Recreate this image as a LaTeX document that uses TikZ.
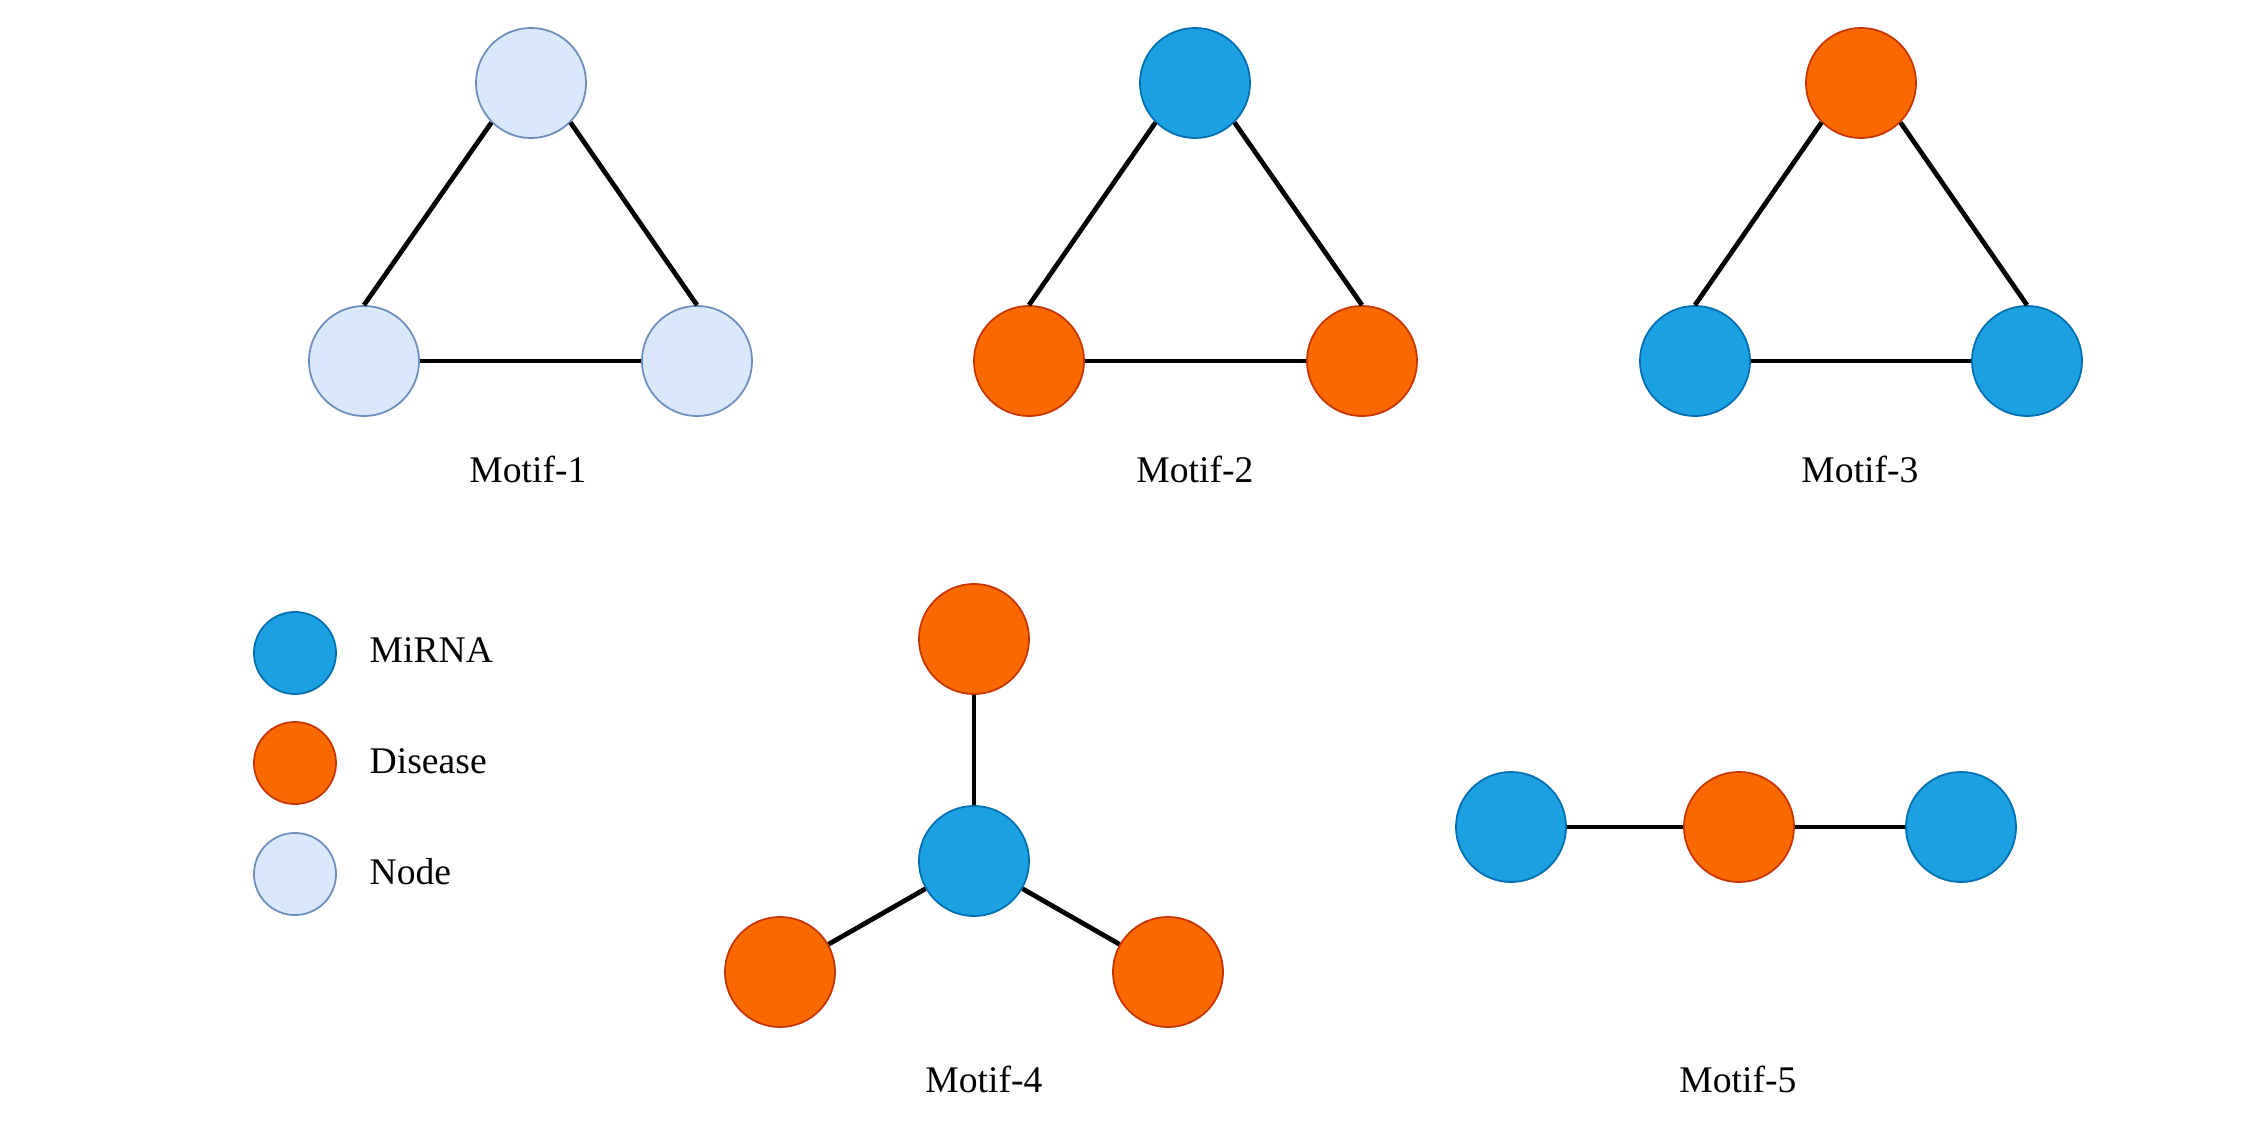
\documentclass[tikz,border=0pt]{standalone}
\usepackage{fontspec}
\setmainfont{Liberation Serif}

\definecolor{mirnaFill}{HTML}{1BA1E2}
\definecolor{mirnaDraw}{HTML}{006EAF}
\definecolor{diseaseFill}{HTML}{FA6800}
\definecolor{diseaseDraw}{HTML}{C73500}
\definecolor{plainFill}{HTML}{DAE8FC}
\definecolor{plainDraw}{HTML}{6C8EBF}

\begin{document}
\begin{tikzpicture}[x=0.01cm, y=-0.01cm,
    every node/.style={font=\fontsize{10.7}{13}\selectfont},
    ball/.style={circle, line width=0.5pt, inner sep=0pt, minimum size=1.10cm},
    small/.style={minimum size=0.82cm},
    mirna/.style={ball, draw=mirnaDraw, fill=mirnaFill},
    disease/.style={ball, draw=diseaseDraw, fill=diseaseFill},
    plain/.style={ball, draw=plainDraw, fill=plainFill},
    edge/.style={line width=1.35pt}]
        \useasboundingbox (0,0) rectangle (2256,1121);

        % Motif-1
        \node[plain] (m1t) at (531,83) {};
        \node[plain] (m1l) at (364,361) {};
        \node[plain] (m1r) at (697,361) {};
        \node[anchor=base] (m1lab) at (528,482) {Motif-1};

        % Motif-2
        \node[mirna] (m2t) at (1195,83) {};
        \node[disease] (m2l) at (1029,361) {};
        \node[disease] (m2r) at (1362,361) {};
        \node[anchor=base] (m2lab) at (1195,482) {Motif-2};

        % Motif-3
        \node[disease] (m3t) at (1861,83) {};
        \node[mirna] (m3l) at (1695,361) {};
        \node[mirna] (m3r) at (2027,361) {};
        \node[anchor=base] (m3lab) at (1860,482) {Motif-3};

        % Legend
        \node[mirna, small] (legm) at (295,653) {};
        \node[disease, small] (legd) at (295,763) {};
        \node[plain, small] (legn) at (295,874) {};
        \node[anchor=base west, inner sep=0pt] (legmt) at (369,662) {MiRNA};
        \node[anchor=base west, inner sep=0pt] (legdt) at (369,773) {Disease};
        \node[anchor=base west, inner sep=0pt] (legnt) at (369,884) {Node};

        % Motif-4
        \node[disease] (m4t) at (974,639) {};
        \node[mirna] (m4c) at (974,861) {};
        \node[disease] (m4l) at (780,972) {};
        \node[disease] (m4r) at (1168,972) {};
        \node[anchor=base] (m4lab) at (984,1092) {Motif-4};

        % Motif-5
        \node[mirna] (m5l) at (1511,827) {};
        \node[disease] (m5c) at (1739,827) {};
        \node[mirna] (m5r) at (1961,827) {};
        \node[anchor=base] (m5lab) at (1738,1092) {Motif-5};

        % Edges
        \draw[edge] (m1t.south west) -- (m1l.north);
        \draw[edge] (m1t.south east) -- (m1r.north);
        \draw[edge] (m1l) -- (m1r);
        \draw[edge] (m2t.south west) -- (m2l.north);
        \draw[edge] (m2t.south east) -- (m2r.north);
        \draw[edge] (m2l) -- (m2r);
        \draw[edge] (m3t.south west) -- (m3l.north);
        \draw[edge] (m3t.south east) -- (m3r.north);
        \draw[edge] (m3l) -- (m3r);
        \draw[edge] (m4t) -- (m4c);
        \draw[edge] (m4c) -- (m4l);
        \draw[edge] (m4c) -- (m4r);
        \draw[edge] (m5l) -- (m5c);
        \draw[edge] (m5c) -- (m5r);
    \end{tikzpicture}
\end{document}
